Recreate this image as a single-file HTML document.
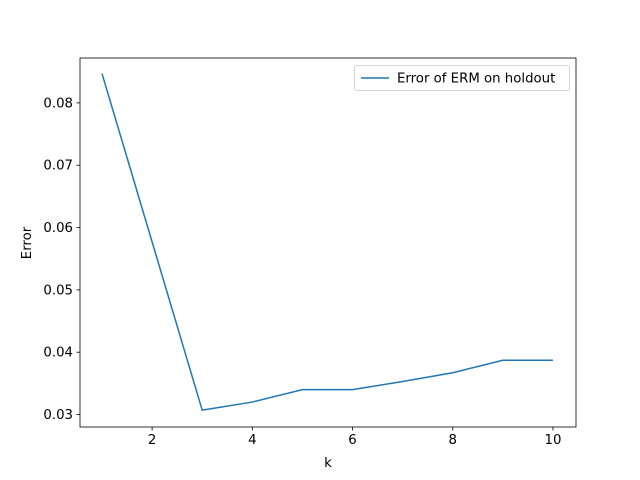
<!DOCTYPE html>
<html><head><meta charset="utf-8"><style>
html,body{margin:0;padding:0;background:#fff}
svg{display:block;font-family:"DejaVu Sans","Liberation Sans",sans-serif}
</style></head><body>
<svg id="chart" width="640" height="480" viewBox="0 0 640 480">
<rect width="640" height="480" fill="#fff"/>
<g id="ticks"></g>
<path id="line" fill="none" stroke="#1f77b4" stroke-width="1.5"/>
<rect x="80" y="58" width="496" height="369" fill="none" stroke="#000" stroke-width="0.8"/>
<text x="328" y="467" font-size="13.3" text-anchor="middle">k</text>
<text transform="translate(31,243) rotate(-90)" font-size="13.3" text-anchor="middle">Error</text>
<g>
<rect x="354.5" y="65.5" width="215" height="25" rx="2" fill="#fff" stroke="#ccc" stroke-width="0.8"/>
<line x1="361" y1="78" x2="389" y2="78" stroke="#1f77b4" stroke-width="1.5"/>
<text x="397" y="82.5" font-size="13.3">Error of ERM on holdout</text>
</g>
</svg>
<script>
const categories=[1,2,3,4,5,6,7,8,9,10];
const errorValues=[0.0847,0.0577,0.0307,0.0320,0.0340,0.0340,0.0353,0.0367,0.0387,0.0387];
const xTicks=[2,4,6,8,10];
const yTicks=[0.03,0.04,0.05,0.06,0.07,0.08];
const yTickLabels=["0.03","0.04","0.05","0.06","0.07","0.08"];
const L=80,R=576,T=58,B=427;
const xMin=0.561,xMax=10.46,yMin=0.0280,yMax=0.0872;
function sx(v){return L+(v-xMin)/(xMax-xMin)*(R-L);}
function sy(v){return B-(v-yMin)/(yMax-yMin)*(B-T);}
const NS="http://www.w3.org/2000/svg";
const g=document.getElementById('ticks');
xTicks.forEach(t=>{
 const l=document.createElementNS(NS,'line');
 l.setAttribute('x1',sx(t));l.setAttribute('x2',sx(t));l.setAttribute('y1',B);l.setAttribute('y2',B+3.5);
 l.setAttribute('stroke','#000');l.setAttribute('stroke-width','0.8');
 
 
 g.appendChild(l);
 const tx=document.createElementNS(NS,'text');
 tx.setAttribute('x',sx(t));tx.setAttribute('y',B+17);tx.setAttribute('font-size','13.3');tx.setAttribute('text-anchor','middle');
 tx.textContent=t;
 
 
 g.appendChild(tx);
});
yTicks.forEach((t,i)=>{
 const l=document.createElementNS(NS,'line');
 l.setAttribute('x1',L-3.5);l.setAttribute('x2',L);l.setAttribute('y1',sy(t));l.setAttribute('y2',sy(t));
 l.setAttribute('stroke','#000');l.setAttribute('stroke-width','0.8');
 
 
 g.appendChild(l);
 const tx=document.createElementNS(NS,'text');
 tx.setAttribute('x',L-7);tx.setAttribute('y',sy(t)+4.5);tx.setAttribute('font-size','13.3');tx.setAttribute('text-anchor','end');
 tx.textContent=yTickLabels[i];
 
 
 g.appendChild(tx);
});
document.getElementById('line').setAttribute('d',categories.map((c,i)=>(i?'L':'M')+sx(c).toFixed(2)+','+sy(errorValues[i]).toFixed(2)).join(' '));
</script>
</body></html>
